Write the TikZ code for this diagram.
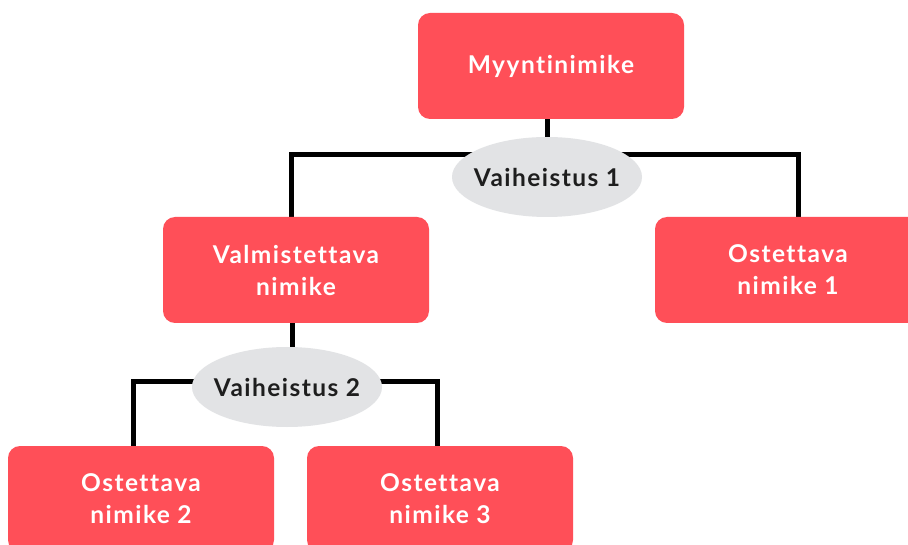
\documentclass[tikz,border=0pt]{standalone}
\usepackage{fontspec}
\setmainfont{Lato}[LetterSpace=6,Ligatures={NoCommon,NoRare,NoContextual}]
\usetikzlibrary{shapes.geometric,backgrounds}
\definecolor{boxred}{HTML}{FF4F58}
\definecolor{ellgray}{HTML}{E2E3E5}
\definecolor{txtdark}{HTML}{1E1E1E}
\newcommand{\zbox}[1]{\makebox[0pt][c]{#1}}
\begin{document}
\begin{tikzpicture}[x=1pt,y=-1pt,
  item/.style={fill=boxred, rounded corners=12pt, minimum width=266pt, minimum height=106pt,
    text=white, font=\fontsize{24.5}{32}\selectfont\bfseries, align=center, inner sep=0pt},
  stage/.style={ellipse, fill=ellgray, minimum width=190pt, minimum height=80pt, inner sep=0pt,
    text=txtdark, font=\fontsize{24.5}{32}\selectfont\bfseries},
  conn/.style={line width=5pt, black}]
\useasboundingbox (0,0) rectangle (908,545);
\node[item] (top) at (551,66) {Myyntinimike};
\node[item] (val) at (296,270) {Valmistettava\\nimike};
\node[item] (ost1) at (788,270) {Ostettava\\nimike 1};
\node[item] (ost2) at (141,499) {Ostettava\\nimike 2};
\node[item] (ost3) at (440,499) {Ostettava\\nimike 3};
\node[stage] (v1) at (547,177) {\zbox{Vaiheistus 1}};
\node[stage] (v2) at (287,387) {\zbox{Vaiheistus 2}};
\coordinate (j1) at (547,155);
\coordinate (l1) at (291,155);
\coordinate (r1) at (798,155);
\coordinate (j2) at (292,382);
\coordinate (l2) at (133,382);
\coordinate (r2) at (437,382);
\begin{scope}[on background layer]
\fill[white] (0,0) rectangle (908,545);
\draw[conn] (top.south -| j1) -- (j1);
\draw[conn] (val.north -| l1) -- (l1) -- (r1) -- (ost1.north -| r1);
\draw[conn] (val.south -| j2) -- (j2);
\draw[conn] (ost2.north -| l2) -- (l2) -- (r2) -- (ost3.north -| r2);
\end{scope}
\end{tikzpicture}
\end{document}
